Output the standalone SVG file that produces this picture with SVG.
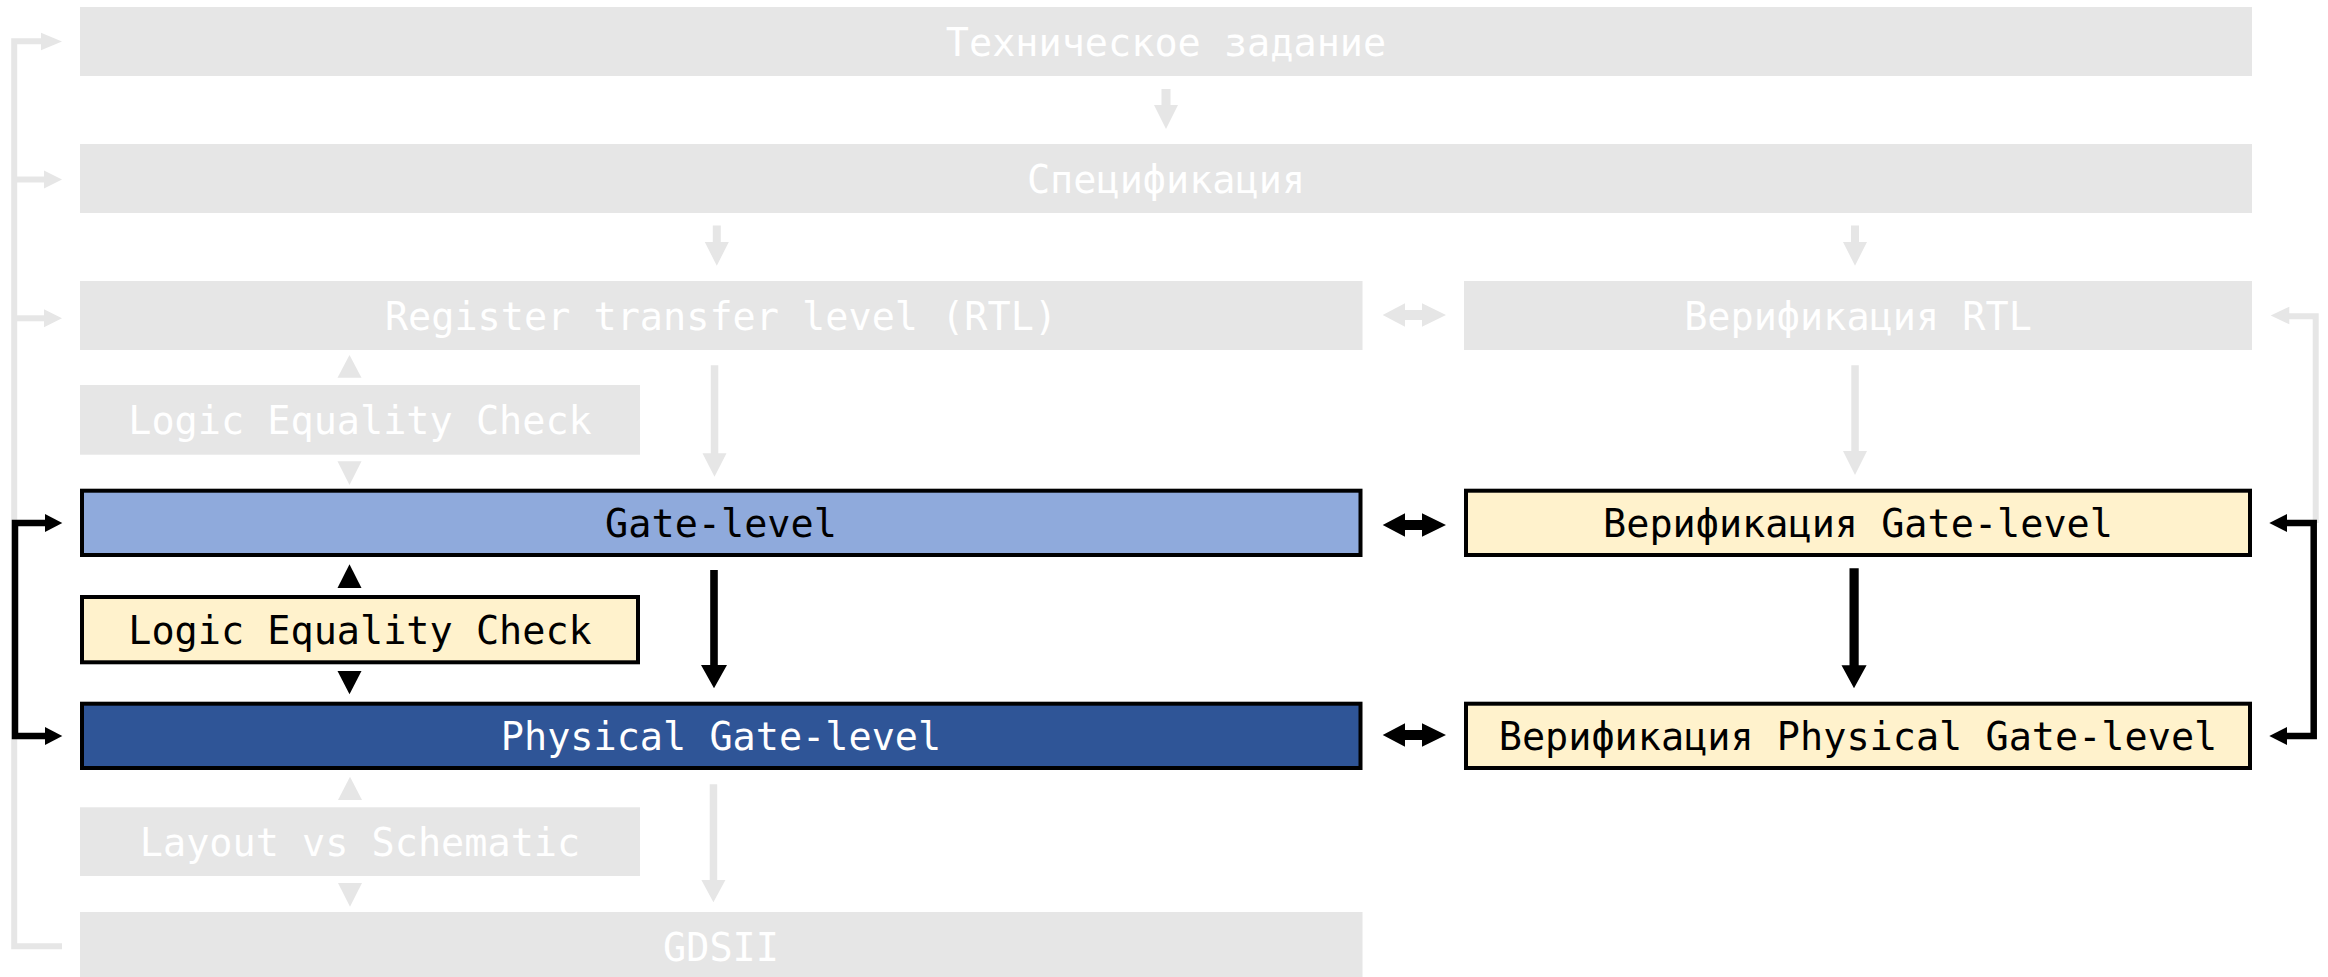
<svg xmlns="http://www.w3.org/2000/svg" width="2328" height="977" viewBox="0 0 2328 977">
  <style>
    .muted { fill: #E6E6E6; }
    .gate { fill: #8FAADC; stroke: #000; stroke-width: 4; }
    .phys { fill: #2F5597; stroke: #000; stroke-width: 4; }
    .check { fill: #FFF2CC; stroke: #000; stroke-width: 4; }
    text { font-family: "DejaVu Sans Mono", "Liberation Mono", monospace; font-size: 38.5px; text-anchor: middle; }
    .light { fill: #FFFFFF; }
    .dark { fill: #000000; }
    .line-muted { fill: none; stroke: #E6E6E6; stroke-width: 6; stroke-linejoin: miter; }
    .line-dark { fill: none; stroke: #000; stroke-width: 6.5; stroke-linejoin: miter; }
    .head-muted { fill: #E6E6E6; }
    .head-dark { fill: #000; }
  </style>
  <rect width="2328" height="977" fill="#FFFFFF"/>

  <!-- connectors -->
  <g id="connectors">
    <!-- feedback loops (inactive) -->
    <path class="line-muted" d="M62 946.3 H14.2 V41.3 H43"/>
    <path class="line-muted" d="M14.2 179.5 H46"/>
    <path class="line-muted" d="M14.2 318.3 H46"/>
    <path class="head-muted" d="M41 32.7 L62 41.5 L41 50.3 Z"/>
    <path class="head-muted" d="M44 170.5 L62 179.5 L44 188.5 Z"/>
    <path class="head-muted" d="M44 309.3 L62 318.3 L44 327.3 Z"/>
    <path class="line-muted" d="M2288 316.3 H2315.7 V523"/>
    <path class="head-muted" d="M2289.3 306.7 L2270.7 315.5 L2289.3 324.3 Z"/>

    <!-- inactive flow arrows -->
    <path class="head-muted" d="M1161.5 89 H1170.5 V105 H1178 L1166 129 L1154 105 H1161.5 Z"/>
    <path class="head-muted" d="M712.8 225.5 H720.8 V242 H728.8 L716.8 265.7 L704.8 242 H712.8 Z"/>
    <path class="head-muted" d="M1851 225.5 H1859 V242 H1867 L1855 265.7 L1843 242 H1851 Z"/>
    <path class="head-muted" d="M1382.7 315 L1405 303.3 V310 H1422 V303.3 L1446 315 L1422 326.7 V320 H1405 V326.7 Z"/>
    <path class="head-muted" d="M710.8 365.3 H718.3 V453.3 H726.5 L714.5 476.7 L702.5 453.3 H710.8 Z"/>
    <path class="head-muted" d="M1851.3 365.3 H1858.8 V451 H1867 L1855 475 L1843 451 H1851.3 Z"/>
    <path class="head-muted" d="M337.5 377.7 L349.5 355 L361.5 377.7 Z"/>
    <path class="head-muted" d="M337.5 461.3 L361.5 461.3 L349.5 485 Z"/>
    <path class="head-muted" d="M338 800 L350 776.7 L362 800 Z"/>
    <path class="head-muted" d="M338 883 L362 883 L350 906.7 Z"/>
    <path class="head-muted" d="M709.7 784.3 H717.2 V880 H725.4 L713.4 902.3 L701.4 880 H709.7 Z"/>

    <!-- active loops -->
    <path class="line-dark" d="M46 523 H15 V736 H46"/>
    <path class="head-dark" d="M45 514 L62.3 523 L45 532 Z"/>
    <path class="head-dark" d="M45 727 L62.3 736 L45 745 Z"/>
    <path class="line-dark" d="M2286 523 H2313.7 V736 H2286"/>
    <path class="head-dark" d="M2287 514 L2269.3 523 L2287 532 Z"/>
    <path class="head-dark" d="M2287 727 L2269.3 736 L2287 745 Z"/>

    <!-- active flow arrows -->
    <path class="head-dark" d="M1382.7 525 L1405 513.3 V520 H1422 V513.3 L1446 525 L1422 536.7 V530 H1405 V536.7 Z"/>
    <path class="head-dark" d="M1382.7 735 L1405 723.3 V730 H1422 V723.3 L1446 735 L1422 746.7 V740 H1405 V746.7 Z"/>
    <path class="head-dark" d="M337.5 588 L349.5 564.3 L361.5 588 Z"/>
    <path class="head-dark" d="M337.5 671 L361.5 671 L349.5 694.3 Z"/>
    <path class="head-dark" d="M710.2 570 H717.8 V665 H727 L714 688.3 L701 665 H710.2 Z"/>
    <path class="head-dark" d="M1849.5 568.3 H1858.7 V665.3 H1866.6 L1854 688.3 L1841.5 665.3 H1849.5 Z"/>
  </g>

  <g id="tech-spec">
    <rect class="muted" x="80" y="7" width="2172" height="69"/>
    <text class="light" x="1166" y="55.5">Техническое задание</text>
  </g>
  <g id="specification">
    <rect class="muted" x="80" y="144" width="2172" height="69"/>
    <text class="light" x="1166" y="192.5">Спецификация</text>
  </g>
  <g id="rtl">
    <rect class="muted" x="80" y="281" width="1282.5" height="69"/>
    <text class="light" x="721" y="329.5">Register transfer level (RTL)</text>
  </g>
  <g id="rtl-verification">
    <rect class="muted" x="1464" y="281" width="788" height="69"/>
    <text class="light" x="1858" y="329.5">Верификация RTL</text>
  </g>
  <g id="lec-rtl">
    <rect class="muted" x="80" y="385" width="560" height="69.7"/>
    <text class="light" x="360" y="434">Logic Equality Check</text>
  </g>
  <g id="gate-level">
    <rect class="gate" x="82" y="490.7" width="1278.5" height="64.3"/>
    <text class="dark" x="721" y="537">Gate-level</text>
  </g>
  <g id="gate-verification">
    <rect class="check" x="1466" y="490.7" width="784" height="64.3"/>
    <text class="dark" x="1858" y="537">Верификация Gate-level</text>
  </g>
  <g id="lec-gate">
    <rect class="check" x="82" y="597" width="556" height="65.3"/>
    <text class="dark" x="360" y="643.7">Logic Equality Check</text>
  </g>
  <g id="physical-gate-level">
    <rect class="phys" x="82" y="703.7" width="1278.5" height="64.3"/>
    <text class="light" x="721" y="750">Physical Gate-level</text>
  </g>
  <g id="physical-verification">
    <rect class="check" x="1466" y="703.7" width="784" height="64.3"/>
    <text class="dark" x="1858" y="750">Верификация Physical Gate-level</text>
  </g>
  <g id="lvs">
    <rect class="muted" x="80" y="807.3" width="560" height="68.7"/>
    <text class="light" x="360" y="855.7">Layout vs Schematic</text>
  </g>
  <g id="gdsii">
    <rect class="muted" x="80" y="912" width="1282.5" height="69"/>
    <text class="light" x="721" y="960.5">GDSII</text>
  </g>
</svg>
